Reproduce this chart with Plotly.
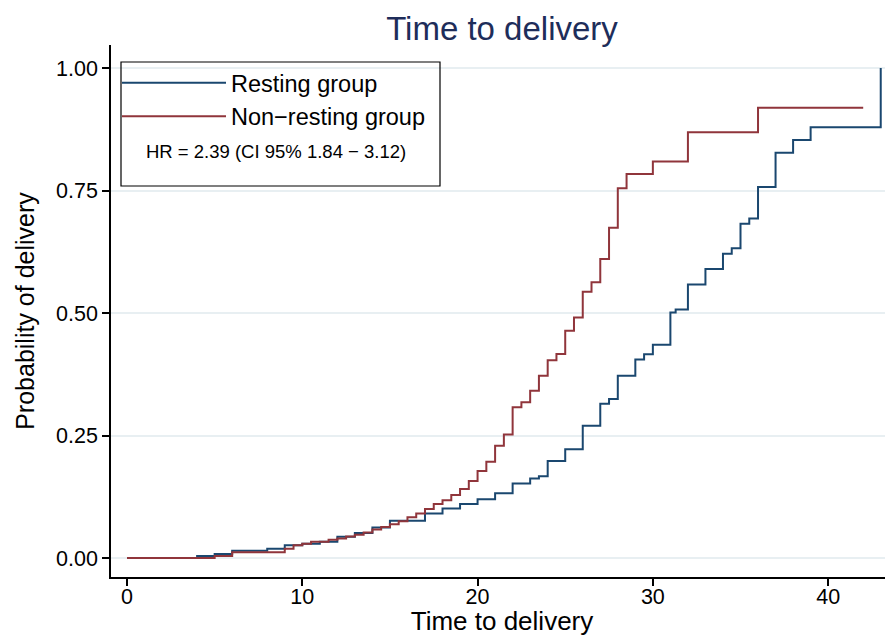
import plotly.graph_objects as go

# ---- data (cumulative probability of delivery) ----
resting_time = [0, 4, 5, 6, 8, 9, 10, 11, 12, 13, 14, 15, 17, 18, 19, 20, 21, 22, 23, 23.5,
                24, 25, 26, 27, 27.5, 28, 29, 29.5, 30, 31, 31.3, 32, 33, 34, 34.5, 35, 35.5,
                36, 37, 38, 39, 43]
resting_prob = [0, 0.004, 0.008, 0.015, 0.019, 0.026, 0.029, 0.033, 0.0435, 0.051, 0.062, 0.076,
                0.091, 0.101, 0.110, 0.120, 0.132, 0.152, 0.162, 0.167, 0.198, 0.222, 0.270, 0.315,
                0.3245, 0.372, 0.405, 0.416, 0.435, 0.501, 0.507, 0.558, 0.590, 0.621, 0.632,
                0.682, 0.693, 0.757, 0.827, 0.853, 0.879, 1.0]

nonresting_time = [0, 5, 6, 9, 9.5, 10, 10.5, 11.5, 12, 12.5, 13, 13.5, 14, 14.5, 15, 15.5, 16,
                   16.5, 17, 17.5, 18, 18.5, 19, 19.5, 20, 20.5, 21, 21.5, 22, 22.5, 23, 23.5, 24,
                   24.5, 25, 25.5, 26, 26.5, 27, 27.5, 28, 28.5, 30, 32, 36, 42]
nonresting_prob = [0, 0.004, 0.0116, 0.019, 0.026, 0.029, 0.033, 0.037, 0.040, 0.044, 0.0476,
                   0.052, 0.058, 0.063, 0.069, 0.075, 0.083, 0.091, 0.100, 0.110, 0.118, 0.1286,
                   0.1408, 0.157, 0.1776, 0.1966, 0.229, 0.252, 0.3075, 0.3177, 0.3415, 0.372,
                   0.4034, 0.4163, 0.4639, 0.491, 0.5435, 0.5626, 0.610, 0.674, 0.7544, 0.7837,
                   0.809, 0.869, 0.919, 0.919]

y_ticks = [0, 0.25, 0.5, 0.75, 1.0]
y_tick_labels = ["0.00", "0.25", "0.50", "0.75", "1.00"]
x_ticks = [0, 10, 20, 30, 40]

series_names = ["Resting group", "Non\u2212resting group"]
hr_text = "HR = 2.39 (CI 95% 1.84 \u2212 3.12)"

BLUE = "#1a476f"
RED = "#90353b"
FONT = "Liberation Sans, Arial, Helvetica, sans-serif"

fig = go.Figure()
fig.add_trace(go.Scatter(x=resting_time, y=resting_prob, mode="lines",
                         line=dict(shape="hv", color=BLUE, width=2),
                         name=series_names[0]))
fig.add_trace(go.Scatter(x=nonresting_time, y=nonresting_prob, mode="lines",
                         line=dict(shape="hv", color=RED, width=2),
                         name=series_names[1]))

# the page body adds an 8px offset; design in reference pixels and shift
OFF = 8
W, H = 893 - OFF, 636 - OFF
ml, mr, mt, mb = 111 - OFF, 0, 45 - OFF, 636 - 577
pw, ph = W - ml - mr, H - mt - mb

def px_x(p):  # reference pixel -> paper x
    return (p - OFF - ml) / pw

def px_y(p):  # reference pixel -> paper y
    return (H - mb - (p - OFF)) / ph

fig.update_layout(
    width=W, height=H,
    margin=dict(l=ml, r=mr, t=mt, b=mb, pad=0, autoexpand=False),
    paper_bgcolor="white", plot_bgcolor="white",
    font=dict(family=FONT, color="black", size=21),
    title=dict(text="Time to delivery", x=0.5, xref="paper", xanchor="center",
               y=1 - (28 - OFF) / H, yref="container", yanchor="middle",
               font=dict(size=33, color="#1e2d5a", family=FONT)),
    showlegend=True,
    legend=dict(x=px_x(117), y=px_y(61), xanchor="left", yanchor="top",
                bgcolor="rgba(0,0,0,0)", borderwidth=0,
                font=dict(size=23.5, family=FONT, color="black"),
                itemwidth=104, tracegroupgap=0),
    xaxis=dict(range=[-0.913, 43.7], tickvals=x_ticks, showgrid=False, zeroline=False,
               showline=True, linecolor="black", linewidth=1.5,
               ticks="outside", ticklen=7, tickcolor="black", tickwidth=1.5,
               tickfont=dict(size=21.5), automargin=False, ticklabelstandoff=-8,
               title=dict(text="Time to delivery", font=dict(size=26), standoff=8)),
    yaxis=dict(range=[-0.0388, 1.047], tickvals=y_ticks, ticktext=y_tick_labels,
               showgrid=True, gridcolor="#e8eff2", gridwidth=1.5, zeroline=False,
               showline=True, linecolor="black", linewidth=1.5,
               ticks="outside", ticklen=7, tickcolor="black", tickwidth=1.5,
               tickfont=dict(size=21.5), automargin=False,
               title=dict(text="Probability of delivery", font=dict(size=25), standoff=14)),
    shapes=[dict(type="rect", xref="paper", yref="paper",
                 x0=px_x(121), x1=px_x(440), y0=px_y(186), y1=px_y(62),
                 line=dict(color="black", width=1.2), fillcolor="rgba(0,0,0,0)")],
    annotations=[dict(text=hr_text, xref="paper", yref="paper",
                      x=px_x(144), y=px_y(151), xanchor="left", yanchor="middle",
                      showarrow=False, font=dict(size=18.5, family=FONT, color="black"))],
)

fig.write_html("out.html")
